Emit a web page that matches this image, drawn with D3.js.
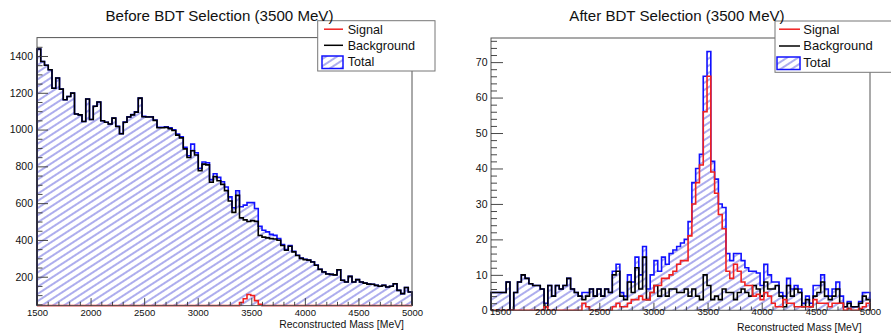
<!DOCTYPE html>
<html><head><meta charset="utf-8">
<script src="https://cdn.jsdelivr.net/npm/d3@7"></script>
<style>
body{margin:0;background:#fff}
text{font-family:"Liberation Sans",Arial,Helvetica,sans-serif}
</style>
</head><body>
<svg id="c" width="891" height="333"></svg>
<script>
// ---------------- data ----------------
const massLow = 1500, massHigh = 5000, binWidth = 35;
const xTickValues = [1500, 2000, 2500, 3000, 3500, 4000, 4500, 5000];
const beforeYTickValues = [200, 400, 600, 800, 1000, 1200, 1400];
const afterYTickValues = [0, 10, 20, 30, 40, 50, 60, 70];
const titles = ["Before BDT Selection (3500 MeV)", "After BDT Selection (3500 MeV)"];
const legendLabels = ["Signal", "Background", "Total"];
const xAxisTitle = "Reconstructed Mass [MeV]";

const beforeBackground = [
1438,1370,1350,1325,1225,1280,1220,1162,1180,1198,
1085,1080,1044,1166,1055,1127,1150,1048,1040,1030,
1062,1017,977,1040,1068,1080,1095,1171,1070,1068,
1068,1050,1010,1010,1012,1005,995,970,955,895,
848,885,862,777,812,808,714,744,722,702,
668,612,550,642,520,509,500,505,501,424,
415,411,407,405,398,370,344,366,335,315,
300,293,290,280,262,240,226,215,213,210,
238,181,171,202,171,184,171,165,160,159,
153,148,153,144,148,162,126,108,141,117];
const beforeSignal = [
0,0,0,0,0,0,0,0,0,0,
0,0,0,0,0,0,0,0,0,0,
1,1,1,1,1,1,1,1,2,2,
2,2,3,3,3,4,4,5,6,8,
10,36,12,13,12,12,14,16,18,14,
20,22,25,25,60,80,103,98,70,50,
38,33,23,20,9,5,4,3,3,2,
2,2,1,1,1,1,1,1,0,0,
0,0,0,0,0,0,0,0,0,0,
0,0,0,0,0,0,0,0,0,0];

const afterBackground = [
5,5,5,5,8,0,5,8,10,9,
7.5,7,7,6,1,7,4,7,6,7,
9,6,5,4,3,4,6,4,6,4,
6,5,10,11,4,3,8,5,12,6,
15,3,5,7,4,6,4,6,6,5,
5,6,4,6,4,3,10,7,3,4,
3,6,5,5,3,5,6,5,4,7,
6,4,8,6,6,7,4,1,7,4,
6,5,1,3,1,4,5,8,4,3,
4,6,2,1,2,1,1,2,4,3];
const afterSignal = [
0,0,0,0,0,0,0,0,0,0,
0,0,0,0,1,0,0,0,0,0,
0,0,0,0,2,1,0,0,0,0,
0,0,1,2,1,1,2,3,3,4,
3,3,5,7,7,9,9,10,11,13,
14,14,21,30,36,41,56,66,39,33,
27,23,11,9,13,11,8,7,7,4,
4.5,3,5,4,2,1,1,3,2,2,
1,1,1,1,1,3,2,2,2,1,
2,2,2,0,0.5,0,0,0.5,1,2];

// ---------------- drawing ----------------
const svg = d3.select("#c");
const defs = svg.append("defs");
const pat = defs.append("pattern").attr("id","hatch")
  .attr("patternUnits","userSpaceOnUse").attr("width",10).attr("height",6)
  .attr("patternTransform","rotate(-33)");
pat.append("line").attr("x1",-1).attr("x2",11).attr("y1",3).attr("y2",3)
  .attr("stroke","#4848d8").attr("stroke-width",0.9);

const panels = [
  {bkg: beforeBackground, sig: beforeSignal, yTicks: beforeYTickValues, yDomain:[43,1500], minorStep:50,
   x0:37, x1:412, y0:37.6, y1:305.6, title:titles[0], titleX:219.5,
   yLabPad:4, yLabSize:10.5, xLabPad:3.5, xLabSize:9.5, axTitleX:404, axTitleY:328,
   yMajor:11, yMinor:5.5, shiftFirstXLabel:false,
   leg:{x:317.7, y:20.7, w:117.3, h:50.3, mx0:324, mx1:343, tx:347.7, base:[33.5,49.6,66.3], fs:12.6}},
  {bkg: afterBackground, sig: afterSignal, yTicks: afterYTickValues, yDomain:[0,76.8], minorStep:2,
   x0:491, x1:870, y0:38, y1:310.3, title:titles[1], titleX:677,
   yLabPad:3.5, yLabSize:10.5, xLabPad:-2.4, xLabSize:9.6, axTitleX:861.7, axTitleY:331,
   yMajor:12, yMinor:6, shiftFirstXLabel:true,
   leg:{x:775, y:21, w:125, h:51.3, mx0:779, mx1:800, tx:803.3, base:[33.5,50.3,67.3], fs:13}}
];

panels.forEach((p, pi) => {
  const g = svg.append("g");
  const x = d3.scaleLinear().domain([massLow, massHigh]).range([p.x0, p.x1]);
  const y = d3.scaleLinear().domain(p.yDomain).range([p.y1, p.y0]).clamp(true);
  const total = p.bkg.map((v,i) => v + p.sig[i]);

  const clipId = "clip" + pi;
  defs.append("clipPath").attr("id", clipId).append("rect")
    .attr("x", p.x0 - 1).attr("y", p.y0).attr("width", p.x1 - p.x0 + 2).attr("height", p.y1 - p.y0 + 1.2);

  const yBase = p.yDomain[0];
  function stepPts(vals){
    const pts = [[massLow, yBase]];
    vals.forEach((v,i) => { const lo = massLow + i*binWidth; pts.push([lo, v], [lo + binWidth, v]); });
    pts.push([massHigh, yBase]);
    return pts;
  }
  const line = d3.line().x(d => x(d[0])).y(d => y(d[1]));
  const hg = g.append("g").attr("clip-path", `url(#${clipId})`);

  hg.append("path").attr("d", line(stepPts(total)) + "Z").attr("fill", "url(#hatch)").attr("stroke", "none");
  hg.append("path").attr("d", line(stepPts(total))).attr("fill", "none").attr("stroke", "#1010ff").attr("stroke-width", 1.6);
  hg.append("path").attr("d", line(stepPts(p.bkg))).attr("fill", "none").attr("stroke", "#000").attr("stroke-width", 1.6);
  hg.append("path").attr("d", line(stepPts(p.sig))).attr("fill", "none").attr("stroke", "#f02020").attr("stroke-width", 1.6);

  // frame
  g.append("rect").attr("x", p.x0).attr("y", p.y0).attr("width", p.x1 - p.x0).attr("height", p.y1 - p.y0)
    .attr("fill", "none").attr("stroke", "#555").attr("stroke-width", 1);

  // y axis
  const yMinorVals = d3.range(0, p.yDomain[1], p.minorStep).filter(v => v >= p.yDomain[0] && !p.yTicks.includes(v));
  const yAxMinor = g.append("g").attr("transform", `translate(${p.x0},0)`)
    .call(d3.axisLeft(y).tickValues(yMinorVals).tickSize(-p.yMinor).tickFormat(""));
  const yAx = g.append("g").attr("transform", `translate(${p.x0},0)`)
    .call(d3.axisLeft(y).tickValues(p.yTicks).tickSize(-p.yMajor).tickPadding(p.yLabPad).tickFormat(d3.format("d")));
  // x axis
  const xMinorVals = d3.range(massLow, massHigh + 1, 100).filter(v => !xTickValues.includes(v));
  const xAxMinor = g.append("g").attr("transform", `translate(0,${p.y1})`)
    .call(d3.axisBottom(x).tickValues(xMinorVals).tickSize(-3.8).tickFormat(""));
  const xAx = g.append("g").attr("transform", `translate(0,${p.y1})`)
    .call(d3.axisBottom(x).tickValues(xTickValues).tickSize(-7.5).tickPadding(p.xLabPad).tickFormat(d3.format("d")));
  [yAxMinor, yAx, xAxMinor, xAx].forEach(a => {
    a.select(".domain").remove();
    a.selectAll("line").attr("stroke", "#333").attr("stroke-width", 0.9);
  });
  yAx.selectAll("text").attr("font-size", p.yLabSize).attr("fill", "#111").attr("font-family", '"Liberation Sans",Arial,sans-serif');
  xAx.selectAll("text").attr("font-size", p.xLabSize).attr("fill", "#111").attr("font-family", '"Liberation Sans",Arial,sans-serif');
  if (p.shiftFirstXLabel) {
    // keep the first x label clear of the "0" y label
    xAx.selectAll(".tick").filter(d => d === massLow).select("text")
      .attr("text-anchor", "start").attr("x", -1.5);
  }

  g.append("text").attr("x", p.axTitleX).attr("y", p.axTitleY).attr("text-anchor", "end")
    .attr("font-size", 10.4).attr("fill", "#111").text(xAxisTitle);

  // legend
  const L = p.leg;
  const lg = g.append("g");
  lg.append("rect").attr("x", L.x).attr("y", L.y).attr("width", L.w).attr("height", L.h)
    .attr("fill", "#fff").attr("stroke", "#777").attr("stroke-width", 1);
  const mid = L.base.map(b => b - 4.3);
  lg.append("line").attr("x1", L.mx0).attr("x2", L.mx1).attr("y1", mid[0]).attr("y2", mid[0]).attr("stroke", "#f02020").attr("stroke-width", 1.5);
  lg.append("line").attr("x1", L.mx0).attr("x2", L.mx1).attr("y1", mid[1]).attr("y2", mid[1]).attr("stroke", "#000").attr("stroke-width", 1.5);
  lg.append("rect").attr("x", L.mx0 - 2).attr("y", mid[2] - 6).attr("width", L.mx1 - L.mx0 + 2).attr("height", 12.5)
    .attr("fill", "url(#hatch)").attr("stroke", "#1010ff").attr("stroke-width", 1.5);
  legendLabels.forEach((t, i) => {
    lg.append("text").attr("x", L.tx).attr("y", L.base[i]).attr("font-size", L.fs).attr("fill", "#111").text(t);
  });

  // title
  g.append("text").attr("x", p.titleX).attr("y", 21).attr("text-anchor", "middle")
    .attr("font-size", 15.1).attr("fill", "#111").text(p.title);
});
</script>
</body></html>
